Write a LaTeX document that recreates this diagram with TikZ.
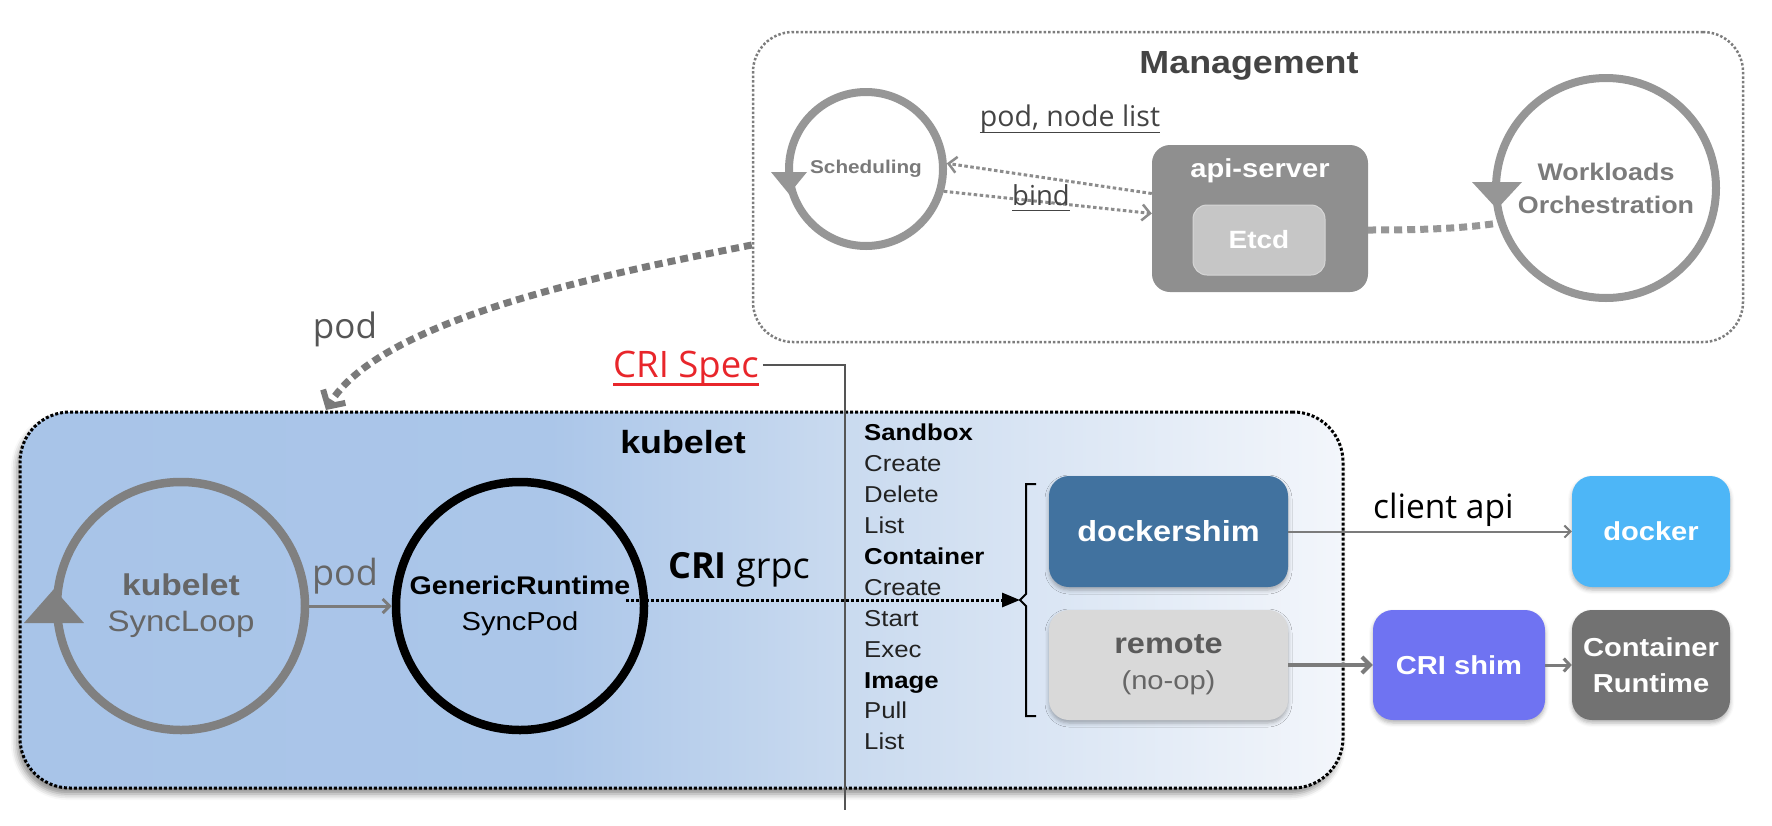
\documentclass[tikz,border=0pt]{standalone}
\usepackage{fontspec}
\setmainfont{Liberation Sans}[FakeStretch=1.12]
\newfontfamily\osans{Open Sans}
\usetikzlibrary{arrows.meta,shadows.blur}
\definecolor{mgray}{HTML}{7D7D7D}
\definecolor{ringgray}{HTML}{969696}
\definecolor{dotgray}{HTML}{8C8C8C}
\definecolor{schedtxt}{HTML}{7A7A7A}
\definecolor{worktxt}{HTML}{7B7B7B}
\definecolor{txtdark}{HTML}{444444}
\definecolor{apigray}{HTML}{8F8F8F}
\definecolor{etcdgray}{HTML}{C6C6C6}
\definecolor{etcdborder}{HTML}{D6D6D6}
\definecolor{lbl}{HTML}{444444}
\definecolor{podgray}{HTML}{7A7A7A}
\definecolor{podtxt}{HTML}{555555}
\definecolor{crired}{HTML}{E8262B}
\definecolor{linegray}{HTML}{555555}
\definecolor{kblue}{HTML}{A8C4E8}
\definecolor{kblueb}{HTML}{ABC6E9}
\definecolor{kmid}{HTML}{C9DAEF}
\definecolor{klight}{HTML}{F3F6FB}
\definecolor{syncgray}{HTML}{808080}
\definecolor{synctxt}{HTML}{666666}
\definecolor{arrgray}{HTML}{7B7B7B}
\definecolor{listtxt}{HTML}{222222}
\definecolor{dsblue}{HTML}{41729F}
\definecolor{remgray}{HTML}{D9D9D9}
\definecolor{remtxt}{HTML}{5A5A5A}
\definecolor{dkblue}{HTML}{4DB6F7}
\definecolor{crishimc}{HTML}{6F73F2}
\definecolor{crgray}{HTML}{727272}
\pgfdeclarehorizontalshading{kubeshade}{100bp}{color(0bp)=(kblue); color(25bp)=(kblue); color(45bp)=(kblueb); color(56bp)=(kmid); color(75bp)=(klight); color(100bp)=(klight)}
\newcommand\fsz[2]{\fontsize{#1}{#2}\selectfont}
\newsavebox\ulbox
\newcommand\ulx[3]{\sbox\ulbox{#3}\rlap{\rule[-#1]{\wd\ulbox}{#2}}\usebox\ulbox}
\begin{document}
\begin{tikzpicture}[x=1pt,y=-1pt,
  ring/.style={circle, draw, line width=8.5pt, inner sep=0pt, align=center},
  box/.style={rounded corners=20pt, inner sep=0pt, align=center, text=white,
    font=\bfseries\fsz{26}{36},
    blur shadow={shadow xshift=0pt, shadow yshift=-3pt, shadow blur radius=4pt, shadow opacity=30}},
  lst/.style={anchor=base west, inner sep=0pt, text=listtxt, font=\fsz{23}{27}},
  lsth/.style={lst, text=black, font=\bfseries\fsz{23}{27}},
  dotarrow/.style={draw=dotgray, line width=3pt, dash pattern=on 3.5pt off 2.5pt,
    -{Straight Barb[length=8pt,width=16pt,line width=2.5pt]}},
  thickdash/.style={line width=7pt, dash pattern=on 8pt off 5pt}
]
\useasboundingbox (0,0) rectangle (1772,825);

% ---------- Management ----------
\node[draw=mgray, dotted, line width=2.5pt, rounded corners=40pt,
      minimum width=990pt, minimum height=310pt] (mgmt) at (1248,187) {};
\node[anchor=base, font=\bfseries\fsz{32}{38}, text=txtdark] (mtitle) at (1249,73) {Management};

\node[ring, draw=ringgray, line width=8pt, minimum size=154pt,
      font=\bfseries\fsz{18.5}{22}, text=schedtxt] (sched) at (866,169) {Scheduling};
\fill[ringgray] (771,172) -- (807,172) -- (789,194) -- cycle;

\node[rounded corners=18pt, fill=apigray, minimum width=216pt, minimum height=147pt] (api) at (1260,218.5) {};
\node[anchor=base, font=\bfseries\fsz{26}{30}, text=white] (apit) at (1260,177) {api-server};
\node[rounded corners=14pt, fill=etcdgray, draw=etcdborder, line width=1pt,
      minimum width=132pt, minimum height=70pt, font=\bfseries\fsz{25}{30}, text=white] (etcd) at (1259,240) {Etcd};

\node[ring, draw=ringgray, line width=8pt, minimum size=220pt,
      font=\bfseries\fsz{24}{33}, text=worktxt] (work) at (1606,188) {Workloads\\Orchestration};
\fill[ringgray] (1472,182) -- (1522,182) -- (1497,209) -- cycle;

\draw[dotarrow] ([yshift=25pt]api.west) -- (sched.4);
\draw[dotarrow] (sched.-16) -- ([yshift=5pt]api.west);
\node[anchor=base, font=\osans\fsz{28.5}{32}, text=lbl] (pnl) at (1070,126) {\ulx{7pt}{1.3pt}{pod, node list}};
\node[anchor=base, font=\osans\fsz{27.5}{32}, text=lbl] (bindl) at (1041,205) {\ulx{6pt}{1.3pt}{bind}};

\draw[thickdash, draw=ringgray] ([yshift=-11.5pt]api.east) .. controls (1430,230) and (1465,228) .. (work.198);

% ---------- kubelet ----------
\node[draw=black, dotted, line width=3pt, rounded corners=50pt,
      minimum width=1323pt, minimum height=376pt, shading=kubeshade,
      blur shadow={shadow xshift=-3pt, shadow yshift=-6pt, shadow blur radius=6pt, shadow opacity=45}] (kube) at (681.5,600) {};

\coordinate (podtip) at (326,410);
\draw[thickdash, draw=podgray, -{Straight Barb[length=12pt,width=26pt,line width=6pt]}]
  ([yshift=-58pt]mgmt.west) .. controls (600,275) and (380,320) .. (podtip);
\node[anchor=base, font=\osans\fsz{35}{40}, text=podtxt] (podl) at (345,338) {pod};

\node[anchor=base west, inner sep=4pt, font=\osans\fsz{36.5}{40}, text=crired] (crispec) at (609,377) {\ulx{9pt}{3pt}{CRI Spec}};
\coordinate (crij) at (845,365);
\coordinate (crib) at (845,810);
\draw[line width=1.2pt, draw=linegray] (crispec.east |- crij) -- (crij) -- (crib);

\node[anchor=base, font=\bfseries\fsz{32}{38}] (ktitle) at (683,453) {kubelet};

\node[ring, draw=syncgray, minimum size=248pt, text=synctxt, font=\fsz{29.5}{36}] (syncl) at (181,606)
  {{\bfseries\fsz{30}{36}kubelet}\\SyncLoop};
\fill[syncgray] (24,623) -- (84,623) -- (54,589) -- cycle;

\node[ring, draw=black, minimum size=248pt, font=\fsz{26}{36}] (gen) at (520,606)
  {{\bfseries\fsz{25.5}{36}GenericRuntime}\\SyncPod};

\draw[line width=3pt, draw=arrgray, -{Straight Barb[length=7pt,width=14pt]}] (syncl) -- (gen);
\node[anchor=base, font=\osans\fsz{36}{40}, text=synctxt] (podk) at (345,585) {pod};

\node[anchor=base west, inner sep=0pt, font=\osans\fsz{36}{42}] (grpc) at (668,578) {\textbf{CRI} grpc};

\coordinate (brk) at (1020,600);
\draw[line width=3pt, dotted, -{Triangle[length=18pt,width=14pt]}] ([xshift=106pt,yshift=6pt]gen.center) -- (brk);
\draw[line width=2pt] (1036,484) -- (1026,484) -- (1026,594) -- (1020,600) -- (1026,606) -- (1026,716) -- (1036,716);

\node[lsth] (l1) at (864,440) {Sandbox};
\node[lst]  (l2) at (864,471) {Create};
\node[lst]  (l3) at (864,502) {Delete};
\node[lst]  (l4) at (864,533) {List};
\node[lsth] (l5) at (864,564) {Container};
\node[lst]  (l6) at (864,595) {Create};
\node[lst]  (l7) at (864,626) {Start};
\node[lst]  (l8) at (864,657) {Exec};
\node[lsth] (l9) at (864,688) {Image};
\node[lst]  (l10) at (864,718) {Pull};
\node[lst]  (l11) at (864,749) {List};

% ---------- runtimes ----------
\node[box, fill=dsblue, minimum width=239pt, minimum height=111pt, font=\bfseries\fsz{29}{34}] (dock) at (1168.5,531.5) {dockershim};
\node[box, fill=remgray, minimum width=239pt, minimum height=110pt, text=remtxt] (remote) at (1168.5,665)
  {{\bfseries\fsz{29}{31}remote}\\{\mdseries\fsz{26}{31}\color{synctxt}(no-op)}};
\node[box, fill=dkblue, minimum width=158pt, minimum height=111pt] (docker) at (1651,531.5) {docker};
\node[box, fill=crishimc, minimum width=172pt, minimum height=110pt] (crishim) at (1459,665) {CRI shim};
\node[box, fill=crgray, minimum width=158pt, minimum height=110pt] (cr) at (1651,665) {Container\\Runtime};

\draw[line width=2pt, draw=arrgray, -{Straight Barb[length=6pt,width=12pt]}] (dock) -- (docker);
\node[anchor=base west, inner sep=0pt, font=\osans\fsz{33.5}{38}] (capi) at (1373,518) {client api};
\draw[line width=4pt, draw=arrgray, -{Straight Barb[length=8pt,width=16pt]}] (remote) -- (crishim);
\draw[line width=3pt, draw=arrgray, -{Straight Barb[length=6pt,width=13pt]}] (crishim) -- (cr);
\end{tikzpicture}
\end{document}
